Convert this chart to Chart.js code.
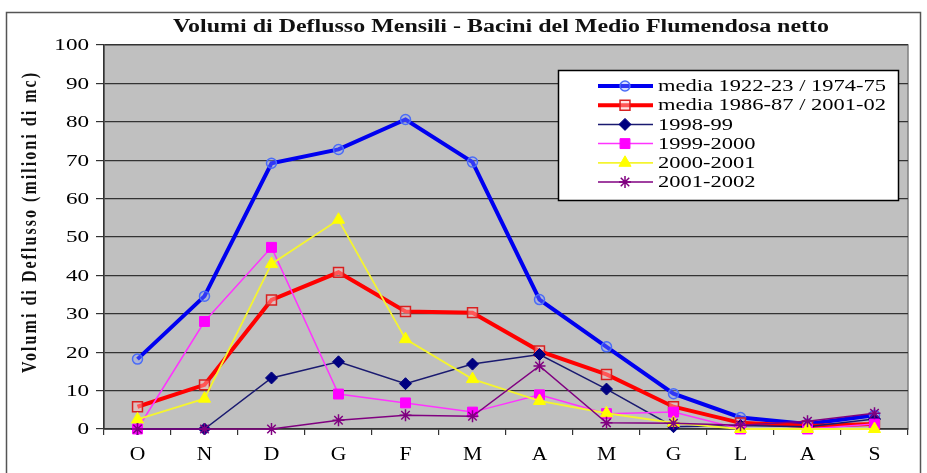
<!DOCTYPE html>
<html><head><meta charset="utf-8">
<script src="https://cdn.jsdelivr.net/npm/chart.js@4/dist/chart.umd.min.js"></script>
<style>html,body{margin:0;padding:0;background:#fff}#wrap{width:927px;height:473px;position:relative}</style>
</head><body><div id="wrap"><canvas id="c" width="927" height="473"></canvas></div>
<script>
// ---- data ----
const months = ['O','N','D','G','F','M','A','M','G','L','A','S'];
const seriesNames = ['media 1922-23 / 1974-75','media 1986-87 / 2001-02','1998-99','1999-2000','2000-2001','2001-2002'];
const media1922_1975 = [18.2, 34.6, 69.2, 72.8, 80.6, 69.5, 33.7, 21.4, 9.2, 3.0, 1.3, 3.6];
const media1986_2002 = [5.8, 11.5, 33.6, 40.8, 30.6, 30.3, 20.3, 14.2, 5.8, 1.6, 0.8, 1.3];
const y1998_99      = [0, 0, 13.3, 17.5, 11.8, 16.9, 19.4, 10.4, 0.6, 0.9, 0.6, 2.6];
const y1999_2000    = [0, 28.0, 47.3, 9.1, 6.8, 4.4, 8.9, 4.0, 4.4, 0, 0, 1.3];
const y2000_2001    = [2.5, 7.9, 43.0, 54.5, 23.4, 13.0, 7.3, 4.1, 1.6, 0, 0, 0];
const y2001_2002    = [0, 0, 0, 2.3, 3.6, 3.3, 16.4, 1.6, 1.5, 1.0, 2.0, 4.1];
const yTickValues   = [0,10,20,30,40,50,60,70,80,90,100];
const chartTitle = 'Volumi di Deflusso Mensili - Bacini del Medio Flumendosa netto';
const yAxisTitle = 'Volumi di Deflusso (milioni di mc)';

const serif = "'Liberation Serif','Times New Roman',serif";

const datasets = [
  {label: seriesNames[0], data: media1922_1975, borderColor:'#0000f0', borderWidth:4,
   pointStyle:'circle', pointRadius:5, pointBorderColor:'#4a6cf7', pointBackgroundColor:'rgba(140,160,255,0.35)', pointBorderWidth:1.5, order:6},
  {label: seriesNames[1], data: media1986_2002, borderColor:'#ff0000', borderWidth:4,
   pointStyle:'rect', pointRadius:7, pointBorderColor:'#d82020', pointBackgroundColor:'rgba(255,190,190,0.45)', pointBorderWidth:1.5, order:5},
  {label: seriesNames[2], data: y1998_99, borderColor:'#1a1a70', borderWidth:1.5,
   pointStyle:'rectRot', pointRadius:6, pointBorderColor:'#000080', pointBackgroundColor:'#000080', pointBorderWidth:1, order:4},
  {label: seriesNames[3], data: y1999_2000, borderColor:'#ff33ff', borderWidth:1.5,
   pointStyle:'rect', pointRadius:7, pointBorderColor:'#ff00ff', pointBackgroundColor:'#ff00ff', pointBorderWidth:1, order:3},
  {label: seriesNames[4], data: y2000_2001, borderColor:'#f4f430', borderWidth:1.8,
   pointStyle:'triangle', pointRadius:7, pointBorderColor:'#ffff00', pointBackgroundColor:'#ffff00', pointBorderWidth:1, order:2},
  {label: seriesNames[5], data: y2001_2002, borderColor:'#800080', borderWidth:1.5,
   pointStyle:'star', pointRadius:6, pointBorderColor:'#800080', pointBackgroundColor:'#800080', pointBorderWidth:1.5, order:1}
];
datasets.forEach(d => { d.tension = 0; d.fill = false; d.clip = false; d.backgroundColor = d.pointBackgroundColor; });

function fitText(ctx, text, target) {
  ctx.letterSpacing = '0px';
  const w = ctx.measureText(text).width;
  const sp = (target - w) / Math.max(1, text.length - 1);
  ctx.letterSpacing = sp.toFixed(2) + 'px';
}
function stretchText(ctx, text, x, y, align, sx) {
  ctx.save();
  ctx.translate(x, y);
  ctx.scale(sx, 1);
  ctx.textAlign = align;
  ctx.fillText(text, 0, 0);
  ctx.restore();
}

const decor = {
  id: 'decor',
  beforeDraw(chart) {
    const {ctx, chartArea: a} = chart;
    ctx.save();
    ctx.fillStyle = '#fff';
    ctx.fillRect(0, 0, chart.width, chart.height);
    ctx.strokeStyle = '#555';
    ctx.lineWidth = 1.5;
    ctx.strokeRect(6.5, 12.5, 914, 470);
    ctx.fillStyle = '#c0c0c0';
    ctx.fillRect(a.left, a.top, a.right - a.left, a.bottom - a.top);
    ctx.strokeStyle = '#808080';
    ctx.lineWidth = 1.5;
    ctx.strokeRect(a.left, a.top, a.right - a.left, a.bottom - a.top);
    // title (stretched horizontally like the reference)
    ctx.fillStyle = '#111';
    ctx.font = "bold 18px " + serif;
    ctx.textBaseline = 'middle';
    const tsx = 656 / ctx.measureText(chartTitle).width;
    stretchText(ctx, chartTitle, 501, 27, 'center', tsx);
    // y axis title
    ctx.save();
    ctx.font = "bold 16px " + serif;
    fitText(ctx, yAxisTitle, 300);
    ctx.textAlign = 'center';
    ctx.translate(31, 222);
    ctx.rotate(-Math.PI / 2);
    ctx.scale(1, 1.3);
    ctx.fillText(yAxisTitle, 0, 0);
    ctx.restore();
    ctx.letterSpacing = '0px';
    ctx.restore();
  },
  afterDraw(chart) {
    const ctx = chart.ctx;
    const xs = chart.scales.x, ys = chart.scales.y;
    ctx.save();
    ctx.fillStyle = '#000';
    ctx.textBaseline = 'middle';
    // y tick labels
    ctx.font = "17px " + serif;
    yTickValues.forEach(v => stretchText(ctx, String(v), 89, ys.getPixelForValue(v) + 1, 'right', 1.36));
    // x tick labels
    ctx.font = "18px " + serif;
    months.forEach((m, i) => stretchText(ctx, m, xs.getPixelForTick(i), 455, 'center', 1.2));
    // legend
    const bx = 558.5, by = 70.5, bw = 340, bh = 130;
    ctx.fillStyle = '#fff';
    ctx.fillRect(bx, by, bw, bh);
    ctx.strokeStyle = '#000';
    ctx.lineWidth = 1.5;
    ctx.strokeRect(bx, by, bw, bh);
    ctx.font = "16px " + serif;
    const legSx = 228 / ctx.measureText(seriesNames[0]).width;
    chart.data.datasets.forEach((d, i) => {
      const y = 86 + i * 19.2;
      ctx.strokeStyle = d.borderColor;
      ctx.lineWidth = d.borderWidth;
      ctx.beginPath(); ctx.moveTo(598, y); ctx.lineTo(653, y); ctx.stroke();
      ctx.fillStyle = d.pointBackgroundColor;
      ctx.strokeStyle = d.pointBorderColor;
      ctx.lineWidth = d.pointBorderWidth;
      Chart.helpers.drawPoint(ctx, {pointStyle: d.pointStyle, radius: d.pointRadius, rotation: 0, borderWidth: d.pointBorderWidth}, 625, y);
      ctx.fillStyle = '#000';
      stretchText(ctx, d.label, 658, y + 1, 'left', legSx);
    });
    ctx.restore();
  }
};

new Chart(document.getElementById('c'), {
  type: 'line',
  data: {labels: months, datasets},
  options: {
    responsive: false, animation: false, devicePixelRatio: 1,
    layout: {padding: {top: 45, right: 19, bottom: 0, left: 0}},
    plugins: {legend: {display: false}, title: {display: false}, tooltip: {enabled: false}},
    scales: {
      x: {
        offset: true,
        grid: {offset: true, drawOnChartArea: false, tickLength: 6, color: '#333', lineWidth: 1.2},
        border: {color: '#333', width: 1.5},
        ticks: {display: false},
        afterFit(s) { s.height = 44; }
      },
      y: {
        min: 0, max: 100,
        afterBuildTicks(s) { s.ticks = yTickValues.map(v => ({value: v})); },
        grid: {color: '#333', lineWidth: 1.2, tickLength: 8},
        border: {color: '#333', width: 1.5},
        ticks: {display: false},
        afterFit(s) { s.width = 104; }
      }
    }
  },
  plugins: [decor]
});
</script></body></html>
